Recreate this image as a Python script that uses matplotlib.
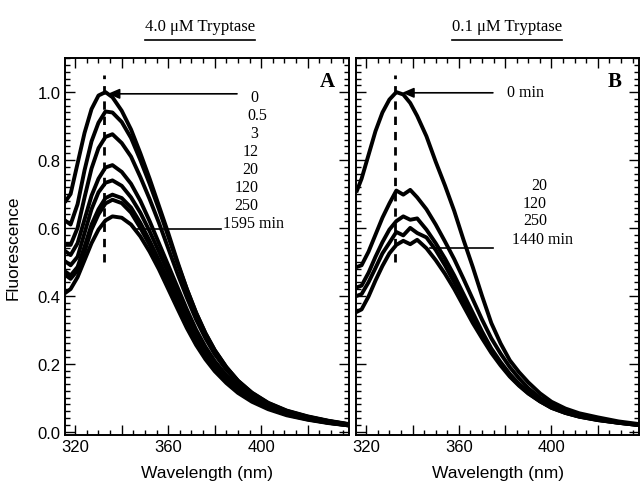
import matplotlib
matplotlib.use("Agg")
import matplotlib.pyplot as plt
from matplotlib.ticker import MultipleLocator, FuncFormatter
from matplotlib.lines import Line2D

# wavelength grid (nm)
wl_a = [316, 318, 321, 324, 327, 330, 333, 336, 340, 344, 348, 352, 356, 360,
        364, 368, 372, 376, 380, 385, 390, 396, 403, 411, 420, 429, 438]
wl_b = [316, 318, 321, 324, 327, 330, 333, 336, 339, 342, 346, 350, 354, 358,
        362, 366, 370, 374, 378, 382, 386, 390, 395, 400, 406, 412, 420, 429, 438]

# panel A: 4.0 uM tryptase, time points (min)
times_a = ["0", "0.5", "3", "12", "20", "120", "250", "1595 min"]
a_0 = [.68, .70, .79, .88, .95, .99, 1.0, .985, .945, .89, .82, .745, .665, .585,
       .50, .42, .35, .29, .24, .19, .15, .115, .085, .062, .045, .032, .022]
a_05 = [.62, .61, .67, .77, .855, .91, .943, .94, .912, .865, .80, .73, .655, .575,
        .495, .42, .35, .29, .24, .19, .15, .114, .084, .061, .044, .031, .021]
a_3 = [.55, .55, .60, .69, .775, .835, .868, .876, .85, .81, .75, .685, .615, .54,
       .465, .395, .33, .275, .228, .182, .144, .11, .082, .06, .043, .031, .021]
a_12 = [.53, .52, .555, .625, .695, .745, .778, .785, .765, .73, .68, .62, .555, .49,
        .425, .36, .30, .25, .208, .166, .132, .101, .075, .055, .04, .029, .02]
a_20 = [.50, .49, .515, .585, .655, .705, .733, .74, .724, .69, .645, .59, .53, .468,
        .405, .345, .29, .242, .201, .161, .128, .098, .073, .053, .038, .027, .019]
a_120 = [.47, .46, .485, .545, .61, .655, .688, .698, .688, .66, .615, .562, .505, .446,
         .388, .33, .278, .233, .194, .155, .124, .095, .07, .051, .037, .026, .018]
a_250 = [.46, .45, .475, .53, .595, .64, .672, .683, .673, .645, .60, .55, .495, .437,
         .38, .323, .272, .228, .19, .152, .121, .093, .069, .05, .036, .026, .018]
a_1595 = [.41, .42, .455, .505, .555, .595, .622, .634, .63, .61, .575, .53, .478, .42,
          .362, .305, .255, .213, .178, .143, .114, .088, .066, .048, .035, .025, .018]
series_a = [a_0, a_05, a_3, a_12, a_20, a_120, a_250, a_1595]

# panel B: 0.1 uM tryptase
times_b = ["0 min", "20", "120", "250", "1440 min"]
b_0 = [.71, .745, .815, .885, .94, .978, 1.0, .993, .968, .93, .87, .795, .725, .65,
       .565, .485, .40, .32, .26, .21, .175, .145, .113, .088, .068, .054, .042, .03, .022]
b_20 = [.485, .49, .53, .58, .63, .672, .71, .698, .712, .69, .655, .61, .56, .508,
        .45, .39, .33, .275, .23, .19, .157, .128, .10, .078, .06, .047, .037, .027, .02]
b_120 = [.425, .43, .468, .515, .558, .595, .62, .634, .624, .628, .595, .555, .51, .46,
         .405, .35, .295, .245, .205, .17, .14, .118, .09, .072, .056, .045, .035, .026, .019]
b_250 = [.40, .405, .44, .482, .525, .556, .588, .578, .60, .585, .572, .535, .49, .44,
         .39, .335, .285, .24, .20, .165, .137, .113, .09, .07, .055, .044, .034, .026, .019]
b_1440 = [.353, .36, .398, .445, .488, .525, .55, .562, .552, .565, .54, .505, .465, .42,
          .37, .32, .275, .232, .195, .162, .135, .112, .089, .07, .055, .044, .034, .026, .019]
series_b = [b_0, b_20, b_120, b_250, b_1440]

# label placement (data coords)
lab_a_y = [.985, .932, .879, .826, .773, .72, .667, .614]
lab_b_y = [1.0, .726, .674, .622, .568]
peak_wl = 332.3

serif = ["Liberation Serif", "DejaVu Serif"]
plt.rcParams["font.family"] = ["Liberation Sans", "DejaVu Sans"]

fig = plt.figure(figsize=(6.4, 4.85), dpi=100)
ax_a = fig.add_axes([0.1016, 0.101, 0.4438, 0.777])
ax_b = fig.add_axes([0.5563, 0.101, 0.4422, 0.777])


def fmt_x(v, pos):
    return "%d" % v if int(round(v)) % 40 == 0 else ""


for ax in (ax_a, ax_b):
    ax.set_xlim(315.6, 437.8)
    ax.set_ylim(-0.01, 1.10)
    ax.xaxis.set_major_locator(MultipleLocator(20))
    ax.xaxis.set_minor_locator(MultipleLocator(5))
    ax.xaxis.set_major_formatter(FuncFormatter(fmt_x))
    ax.yaxis.set_major_locator(MultipleLocator(0.2))
    ax.yaxis.set_minor_locator(MultipleLocator(0.02))
    ax.tick_params(which="both", direction="in", top=True, right=True,
                   labelsize=12, width=1, pad=3)
    ax.tick_params(which="major", length=7)
    ax.tick_params(which="minor", length=3.5)
    for s in ax.spines.values():
        s.set_linewidth(1.4)
    ax.set_xlabel("Wavelength (nm)", fontsize=12.5, labelpad=8)
    ax.plot([peak_wl, peak_wl], [0.50, 1.05], color="black", lw=2,
            dashes=(3, 2.5))

ax_a.yaxis.set_major_formatter(FuncFormatter(lambda v, p: "%.1f" % v))
ax_b.set_yticklabels([])
ax_a.set_ylabel("Fluorescence", fontsize=12.5, labelpad=12)

for ys in series_a:
    ax_a.plot(wl_a, ys, color="black", lw=2.8, solid_joinstyle="round")
for ys in series_b:
    ax_b.plot(wl_b, ys, color="black", lw=2.8, solid_joinstyle="round")

# time labels panel A
for t, y in zip(times_a, lab_a_y):
    if t == "0.5":
        ax_a.text(394.2, y, t, ha="left", va="center", fontsize=11.5, family=serif)
    elif t.endswith("min"):
        ax_a.text(383.4, y, t, ha="left", va="center", fontsize=11.5, family=serif)
    else:
        ax_a.text(398.7, y, t, ha="right", va="center", fontsize=11.5, family=serif)

ax_a.annotate("", xy=(334.0, 0.995), xytext=(389.6, 0.995),
              arrowprops=dict(arrowstyle="-|>,head_length=0.7,head_width=0.3",
                              color="black", lw=1.2, shrinkA=0, shrinkB=0))
ax_a.plot([346.5, 382.5], [0.597, 0.597], color="black", lw=1.2)

# time labels panel B
for t, y in zip(times_b, lab_b_y):
    if t.endswith("min"):
        x = 380.8 if t == "0 min" else 382.9
        ax_b.text(x, y, t, ha="left", va="center", fontsize=11.5, family=serif)
    else:
        ax_b.text(398.0, y, t, ha="right", va="center", fontsize=11.5, family=serif)

ax_b.annotate("", xy=(335.5, 0.998), xytext=(374.7, 0.998),
              arrowprops=dict(arrowstyle="-|>,head_length=0.7,head_width=0.3",
                              color="black", lw=1.2, shrinkA=0, shrinkB=0))
ax_b.plot([347.6, 374.7], [0.541, 0.541], color="black", lw=1.2)

ax_a.text(428.6, 1.032, "A", ha="center", va="center", fontsize=15,
          fontweight="bold", family=serif)
ax_b.text(427.3, 1.032, "B", ha="center", va="center", fontsize=15,
          fontweight="bold", family=serif)

# underlined panel titles
titles = []
titles.append(fig.text(200 / 640, 1 - 27 / 485, "4.0 \u03bcM Tryptase",
                       ha="center", va="center", fontsize=12, family=serif))
titles.append(fig.text(507 / 640, 1 - 27 / 485, "0.1 \u03bcM Tryptase",
                       ha="center", va="center", fontsize=12, family=serif))
fig.canvas.draw()
r = fig.canvas.get_renderer()
for t in titles:
    bb = t.get_window_extent(renderer=r).transformed(fig.transFigure.inverted())
    fig.add_artist(Line2D([bb.x0, bb.x1], [bb.y0 - 0.012, bb.y0 - 0.012],
                          color="black", lw=1.2, transform=fig.transFigure))

fig.savefig("out.png", dpi=100)
